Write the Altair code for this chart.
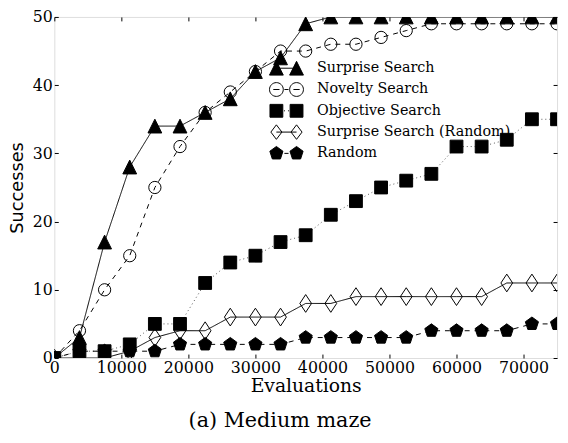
import altair as alt
import pandas as pd

# ---------------- data ----------------
evaluations = [0, 3750, 7500, 11250, 15000, 18750, 22500, 26250, 30000, 33750,
               37500, 41250, 45000, 48750, 52500, 56250, 60000, 63750, 67500,
               71250, 75000]
surprise = [0, 3, 17, 28, 34, 34, 36, 38, 42, 44, 49, 50, 50, 50, 50, 50, 50, 50, 50, 50, 50]
novelty = [0, 4, 10, 15, 25, 31, 36, 39, 42, 45, 45, 46, 46, 47, 48, 49, 49, 49, 49, 49, 49]
objective = [0, 1, 1, 2, 5, 5, 11, 14, 15, 17, 18, 21, 23, 25, 26, 27, 31, 31, 32, 35, 35]
surprise_random = [0, 0, 0, 1, 3, 4, 4, 6, 6, 6, 8, 8, 9, 9, 9, 9, 9, 9, 11, 11, 11]
random_search = [0, 1, 1, 1, 1, 2, 2, 2, 2, 2, 3, 3, 3, 3, 3, 4, 4, 4, 4, 5, 5]

names = ["Surprise Search", "Novelty Search", "Objective Search",
         "Surprise Search (Random)", "Random"]
series_values = [surprise, novelty, objective, surprise_random, random_search]

x_ticks = [0, 10000, 20000, 30000, 40000, 50000, 60000, 70000]
y_ticks = [0, 10, 20, 30, 40, 50]

rows = []
for name, vals in zip(names, series_values):
    for xv, yv in zip(evaluations, vals):
        rows.append({"x": xv, "y": yv, "series": name})
df = pd.DataFrame(rows)

# ---------------- styles ----------------
W, H = 510, 346
SERIF = "DejaVu Serif, Liberation Serif, serif"

TRI = "M0,-1 L1,1 L-1,1 Z"
DIAM = "M0,-1 L0.66,0 L0,1 L-0.66,0 Z"
PENT = "M0,-1 L0.951,-0.309 L0.588,0.809 L-0.588,0.809 L-0.951,-0.309 Z"

styles = {
    "Surprise Search": dict(shape=TRI, size=196, filled=True, dash=[1, 0], color="black"),
    "Novelty Search": dict(shape="circle", size=154, filled=False, dash=[5, 5], color="black"),
    "Objective Search": dict(shape="square", size=169, filled=True, dash=[1, 3], color="#555555"),
    "Surprise Search (Random)": dict(shape=DIAM, size=324, filled=False, dash=[1, 0], color="black"),
    "Random": dict(shape=PENT, size=196, filled=True, dash=[5, 5], color="black"),
}

# legend symbols: two markers joined by the series line style (unit = 7px)
c = 1.46
leg_tri = (f"M{-c},-1 L{-c+1},1 L{-c-1},1 Z M{c},-1 L{c+1},1 L{c-1},1 Z M{-c},0 L{c},0")
leg_circ = (f"M{-c+1},0 A1,1 0 1,1 {-c-1},0 A1,1 0 1,1 {-c+1},0 Z "
            f"M{c+1},0 A1,1 0 1,1 {c-1},0 A1,1 0 1,1 {c+1},0 Z "
            f"M{-c-0.45},0 L{-c+0.45},0 M-0.3,0 L0.3,0 M{c-0.45},0 L{c+0.45},0")
leg_sq = (f"M{-c-0.93},-0.93 h1.86 v1.86 h-1.86 Z M{c-0.93},-0.93 h1.86 v1.86 h-1.86 Z "
          f"M-0.36,0 L-0.22,0 M0.22,0 L0.36,0")
leg_diam = (f"M{-c},-1.05 L{-c+0.8},0 L{-c},1.05 L{-c-0.8},0 Z "
            f"M{c},-1.05 L{c+0.8},0 L{c},1.05 L{c-0.8},0 Z M{-c},0 L{c},0")
leg_pent = (f"M{-c},-1 L{-c+0.951},-0.309 L{-c+0.588},0.809 L{-c-0.588},0.809 L{-c-0.951},-0.309 Z "
            f"M{c},-1 L{c+0.951},-0.309 L{c+0.588},0.809 L{c-0.588},0.809 L{c-0.951},-0.309 Z "
            f"M-0.3,0 L0.3,0")
legend_paths = [leg_tri, leg_circ, leg_sq, leg_diam, leg_pent]
legend_fills = ["black", "transparent", "black", "transparent", "black"]
legend_strokes = ["black", "black", "black", "black", "black"]

xscale = alt.Scale(domain=[0, 75000], nice=False, zero=False)
yscale = alt.Scale(domain=[0, 50], nice=False)

ax_x_main = alt.Axis(values=x_ticks, format="d", orient="bottom", ticks=False, domain=False,
                     grid=False, labelFont=SERIF, labelFontSize=16, labelColor="black",
                     labelPadding=2, labelFlush=False, title="Evaluations", titleFont=SERIF,
                     titleFontSize=19, titleFontWeight="normal", titleColor="black",
                     titlePadding=1)
ax_y_main = alt.Axis(values=y_ticks, orient="left", ticks=False, domain=False, grid=False,
                     labelFont=SERIF, labelFontSize=16, labelColor="black", labelPadding=2,
                     labelFlush=False, title="Successes", titleFont="DejaVu Sans",
                     titleFontSize=18, titleFontWeight="normal", titleColor="black",
                     titlePadding=6)


def tick_axis(values, orient, offset):
    return alt.Axis(values=values, orient=orient, offset=offset, labels=False, ticks=True,
                    tickSize=4, tickColor="black", tickWidth=1, domain=False, grid=False,
                    title=None)


ax_x_bot_in = tick_axis(x_ticks, "top", -H)
ax_x_top_in = tick_axis(x_ticks, "bottom", -H)
ax_y_left_in = tick_axis(y_ticks, "right", -W)
ax_y_right_in = tick_axis(y_ticks, "left", -W)

layers = []
for i, name in enumerate(names):
    st = styles[name]
    sub = alt.Chart(df).transform_filter(alt.datum.series == name)
    if i == 0:
        xa_l, ya_l, xa_p, ya_p = ax_x_main, ax_y_main, ax_x_bot_in, ax_y_left_in
    elif i == 1:
        xa_l, ya_l, xa_p, ya_p = ax_x_top_in, ax_y_right_in, None, None
    else:
        xa_l = ya_l = xa_p = ya_p = None
    line = sub.mark_line(color=st["color"], strokeWidth=1, strokeDash=st["dash"], clip=True).encode(
        x=alt.X("x:Q", scale=xscale, axis=xa_l),
        y=alt.Y("y:Q", scale=yscale, axis=ya_l),
    )
    if st["filled"]:
        pm = sub.mark_point(shape=st["shape"], size=st["size"], filled=True, fill="black",
                            stroke="black", strokeWidth=1, opacity=1, clip=True)
    else:
        pm = sub.mark_point(shape=st["shape"], size=st["size"], filled=False,
                            stroke="black", strokeWidth=1, opacity=1, clip=True)
    pts = pm.encode(
        x=alt.X("x:Q", scale=xscale, axis=xa_p),
        y=alt.Y("y:Q", scale=yscale, axis=ya_p),
    )
    layers += [line, pts]

legend_df = pd.DataFrame({"legend": names})
leg_props = dict(orient="none", legendX=228, legendY=44.5, title=None, symbolSize=196,
                 symbolStrokeWidth=1, symbolStrokeColor="black", labelFont=SERIF,
                 labelFontSize=14.5, labelColor="black", labelOffset=23.5, rowPadding=2.6,
                 padding=0, labelLimit=400)
legend_layer = alt.Chart(legend_df).transform_filter("false").mark_point(
    filled=False, strokeWidth=1, opacity=1
).encode(
    shape=alt.Shape("legend:N", scale=alt.Scale(domain=names, range=legend_paths),
                    legend=alt.Legend(**leg_props)),
    fill=alt.Fill("legend:N", scale=alt.Scale(domain=names, range=legend_fills),
                  legend=alt.Legend(**leg_props)),
    stroke=alt.Stroke("legend:N", scale=alt.Scale(domain=names, range=legend_strokes),
                      legend=alt.Legend(**leg_props)),
)
layers.append(legend_layer)

chart = alt.layer(*layers).resolve_axis(x="independent", y="independent").properties(
    width=W, height=H,
    autosize=alt.AutoSizeParams(type="none"),
    padding={"left": 47, "top": 6, "right": 3, "bottom": 74},
    title=alt.TitleParams("(a) Medium maze", orient="bottom", font=SERIF, fontSize=21,
                          fontWeight="normal", color="black", offset=15, anchor="middle",
                          frame="group", dx=-26),
).configure_view(stroke="black", strokeWidth=1).configure(background="white")

chart.save("out.html", embed_options={"renderer": "svg", "actions": False})
